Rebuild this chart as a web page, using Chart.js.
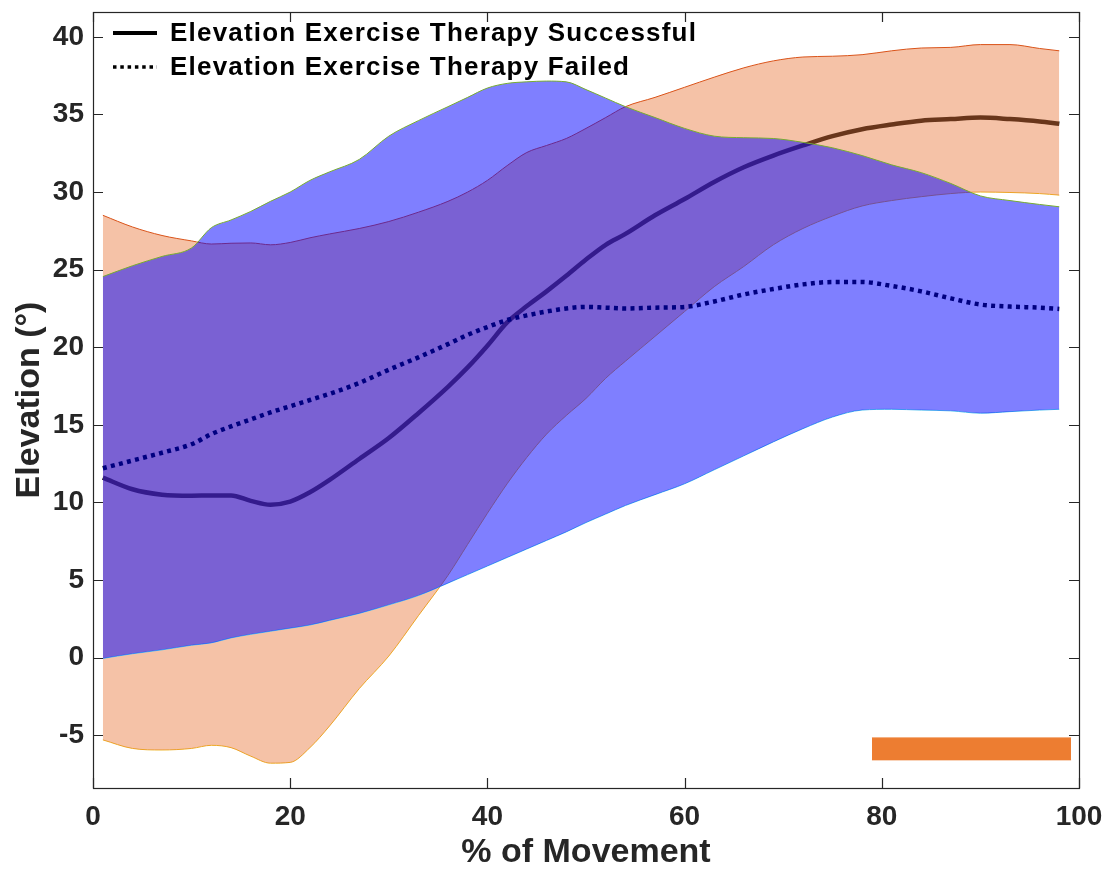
<!DOCTYPE html>
<html>
<head>
    <title>Elevation over Movement</title>
    <script src="https://cdn.jsdelivr.net/npm/chart.js"></script>
    <style>
        body { margin: 0; background: #fff; }
        #wrap { width: 1111px; height: 873px; }
    </style>
</head>
<body>
    <div id="wrap"><canvas id="elevChart" width="1111" height="873"></canvas></div>

    <script>
        // % of movement sample points
        const movement = [1, 4, 7, 10, 12, 14, 16, 18, 20, 22, 24, 27, 30, 33, 36, 38, 40, 42, 44, 46, 48,
                          50, 52, 54, 57, 60, 63, 66, 69, 72, 75, 78, 81, 84, 87, 90, 93, 96, 98];

        // successful group: mean and band
        const successMean = [11.6, 10.85, 10.5, 10.43, 10.45, 10.45, 10.1, 9.85, 10.05, 10.65, 11.45, 12.8, 14.15, 15.75, 17.45, 18.7, 20.1, 21.6, 22.65, 23.6, 24.6,
                             25.65, 26.6, 27.3, 28.5, 29.55, 30.65, 31.6, 32.35, 33.0, 33.6, 34.05, 34.35, 34.6, 34.7, 34.8, 34.7, 34.55, 34.4];
        const successUpper = [28.5, 27.75, 27.2, 26.85, 26.65, 26.7, 26.72, 26.6, 26.75, 27.05, 27.3, 27.65, 28.1, 28.7, 29.4, 30.0, 30.75, 31.7, 32.55, 33.0, 33.45,
                              34.1, 34.8, 35.5, 36.1, 36.75, 37.4, 38.0, 38.45, 38.7, 38.75, 38.85, 39.1, 39.28, 39.32, 39.5, 39.5, 39.25, 39.1];
        const successLower = [-5.3, -5.85, -5.95, -5.85, -5.65, -5.8, -6.35, -6.8, -6.75, -5.8, -4.4, -2.0, 0.1, 2.7, 5.3, 7.3, 9.3, 11.2, 12.9, 14.4, 15.6,
                              16.7, 18.0, 19.1, 20.7, 22.3, 23.9, 25.2, 26.6, 27.65, 28.45, 29.1, 29.45, 29.7, 29.9, 30.0, 29.97, 29.9, 29.8];

        // failed group: mean and band
        const failedMean = [12.2, 12.7, 13.2, 13.75, 14.4, 14.9, 15.35, 15.8, 16.2, 16.6, 17.0, 17.7, 18.55, 19.35, 20.2, 20.8, 21.3, 21.75, 22.05, 22.3, 22.5,
                            22.6, 22.55, 22.5, 22.55, 22.6, 22.95, 23.4, 23.75, 24.05, 24.2, 24.2, 23.95, 23.6, 23.15, 22.75, 22.62, 22.55, 22.47];
        const failedUpper = [24.55, 25.25, 25.85, 26.4, 27.7, 28.2, 28.75, 29.4, 30.0, 30.75, 31.3, 32.1, 33.6, 34.6, 35.5, 36.1, 36.7, 37.0, 37.1, 37.15, 37.1,
                             36.6, 36.05, 35.5, 34.8, 34.1, 33.6, 33.5, 33.45, 33.2, 32.85, 32.35, 31.75, 31.25, 30.55, 29.75, 29.45, 29.2, 29.05];
        const failedLower = [-0.05, 0.25, 0.5, 0.8, 0.95, 1.27, 1.5, 1.7, 1.9, 2.1, 2.4, 2.85, 3.4, 4.0, 4.8, 5.35, 5.9, 6.45, 7.0, 7.55, 8.1,
                             8.7, 9.25, 9.8, 10.5, 11.2, 12.1, 13.0, 13.9, 14.75, 15.5, 15.95, 16.0, 15.95, 15.9, 15.75, 15.85, 15.95, 16.0];

        // significance bar (x range, y top/bottom)
        const sigX = [79, 99.2];
        const sigTop = [-5.15, -5.15];
        const sigBottom = [-6.6, -6.6];

        const xTicks = [0, 20, 40, 60, 80, 100];
        const yTicks = [-5, 0, 5, 10, 15, 20, 25, 30, 35, 40];

        const ink = '#262626';
        const fontFamily = "'Liberation Sans', Arial, sans-serif";

        const pts = (xs, ys) => xs.map((x, i) => ({ x: x, y: ys[i] }));

        // inward ticks and box, like the original figure
        const boxPlugin = {
            id: 'boxTicks',
            afterDatasetsDraw(chart) {
                const { ctx, chartArea: a, scales } = chart;
                const len = 10;
                ctx.save();
                ctx.strokeStyle = ink;
                ctx.lineWidth = 1.2;
                ctx.beginPath();
                scales.x.ticks.forEach(t => {
                    const px = Math.round(scales.x.getPixelForValue(t.value)) + 0.5;
                    ctx.moveTo(px, a.bottom); ctx.lineTo(px, a.bottom - len);
                    ctx.moveTo(px, a.top); ctx.lineTo(px, a.top + len);
                });
                scales.y.ticks.forEach(t => {
                    const py = Math.round(scales.y.getPixelForValue(t.value)) + 0.5;
                    ctx.moveTo(a.left, py); ctx.lineTo(a.left + len, py);
                    ctx.moveTo(a.right, py); ctx.lineTo(a.right - len, py);
                });
                ctx.stroke();
                ctx.strokeRect(a.left + 0.5, a.top + 0.5, a.right - a.left, a.bottom - a.top);
                ctx.restore();
            }
        };

        // legend inside the axes, top left
        const legendPlugin = {
            id: 'innerLegend',
            afterDraw(chart) {
                const { ctx, chartArea: a } = chart;
                ctx.save();
                ctx.font = 'bold 26px ' + fontFamily;
                ctx.letterSpacing = '1.2px';
                ctx.textBaseline = 'middle';
                ctx.fillStyle = '#000';
                [0, 1].forEach((di, row) => {
                    const ds = chart.data.datasets[di];
                    const y = a.top + 21 + row * 34;
                    ctx.strokeStyle = '#000';
                    ctx.lineWidth = row === 0 ? 4 : 3.5;
                    ctx.setLineDash(row === 0 ? [] : [3.5, 3.8]);
                    ctx.beginPath();
                    ctx.moveTo(a.left + 20, y);
                    ctx.lineTo(a.left + 64, y);
                    ctx.stroke();
                    ctx.setLineDash([]);
                    ctx.fillText(ds.label, a.left + 77, y + 1);
                });
                ctx.restore();
            }
        };

        const noPadY = s => { s.width = 93; s.paddingTop = 0; s.paddingBottom = 0; };
        const noPadX = s => { s.height = 85; s.paddingLeft = 0; s.paddingRight = 0; };

        // draw order: successful mean, orange band, failed mean, blue band, bar
        const ctx = document.getElementById('elevChart').getContext('2d');
        const chart = new Chart(ctx, {
            type: 'line',
            data: {
                datasets: [
                    {
                        label: 'Elevation Exercise Therapy Successful',
                        data: pts(movement, successMean),
                        borderColor: '#000',
                        borderWidth: 4.5,
                        fill: false,
                        order: 9
                    },
                    {
                        label: 'Elevation Exercise Therapy Failed',
                        data: pts(movement, failedMean),
                        borderColor: '#000',
                        borderWidth: 4.5,
                        borderDash: [4, 4.3],
                        borderCapStyle: 'butt',
                        fill: false,
                        order: 5.5
                    },
                    {
                        label: 'successLower',
                        data: pts(movement, successLower),
                        borderColor: '#EDB120',
                        borderWidth: 1,
                        fill: false,
                        order: 7
                    },
                    {
                        label: 'successUpper',
                        data: pts(movement, successUpper),
                        borderColor: '#D95319',
                        borderWidth: 1,
                        backgroundColor: 'rgba(233, 120, 60, 0.45)',
                        fill: '-1',
                        order: 6
                    },
                    {
                        label: 'failedLower',
                        data: pts(movement, failedLower),
                        borderColor: '#4DBEEE',
                        borderWidth: 1,
                        fill: false,
                        order: 5
                    },
                    {
                        label: 'failedUpper',
                        data: pts(movement, failedUpper),
                        borderColor: '#77AC30',
                        borderWidth: 1,
                        backgroundColor: 'rgba(0, 0, 255, 0.5)',
                        fill: '-1',
                        order: 4
                    },
                    {
                        label: 'sigBottom',
                        data: pts(sigX, sigBottom),
                        borderColor: '#F4B183',
                        borderWidth: 1,
                        fill: false,
                        order: 3
                    },
                    {
                        label: 'sigTop',
                        data: pts(sigX, sigTop),
                        borderColor: '#F4B183',
                        borderWidth: 1,
                        backgroundColor: '#ED7D31',
                        fill: '-1',
                        order: 2
                    }
                ]
            },
            options: {
                responsive: false,
                animation: false,
                events: [],
                layout: { padding: { top: 12, right: 32, left: 0, bottom: 0 } },
                elements: {
                    point: { radius: 0 },
                    line: { cubicInterpolationMode: 'monotone' }
                },
                plugins: {
                    legend: { display: false },
                    tooltip: { enabled: false }
                },
                scales: {
                    x: {
                        type: 'linear',
                        min: 0,
                        max: 100,
                        afterFit: noPadX,
                        afterBuildTicks: s => { s.ticks = xTicks.map(v => ({ value: v })); },
                        grid: { display: false, drawTicks: false },
                        border: { display: false },
                        ticks: {
                            color: ink,
                            padding: 12,
                            font: { family: fontFamily, size: 28, weight: 'bold' }
                        },
                        title: {
                            display: true,
                            text: '% of Movement',
                            color: ink,
                            padding: { top: 0, bottom: 0 },
                            font: { family: fontFamily, size: 34, weight: 'bold' }
                        }
                    },
                    y: {
                        type: 'linear',
                        min: -8.4,
                        max: 41.6,
                        afterFit: noPadY,
                        afterBuildTicks: s => { s.ticks = yTicks.map(v => ({ value: v })); },
                        grid: { display: false, drawTicks: false },
                        border: { display: false },
                        ticks: {
                            color: ink,
                            padding: 9,
                            font: { family: fontFamily, size: 28, weight: 'bold' }
                        },
                        title: {
                            display: true,
                            text: 'Elevation (°)',
                            color: ink,
                            padding: { top: 9, bottom: 0 },
                            font: { family: fontFamily, size: 34, weight: 'bold' }
                        }
                    }
                }
            },
            plugins: [boxPlugin, legendPlugin]
        });
    </script>
</body>
</html>
